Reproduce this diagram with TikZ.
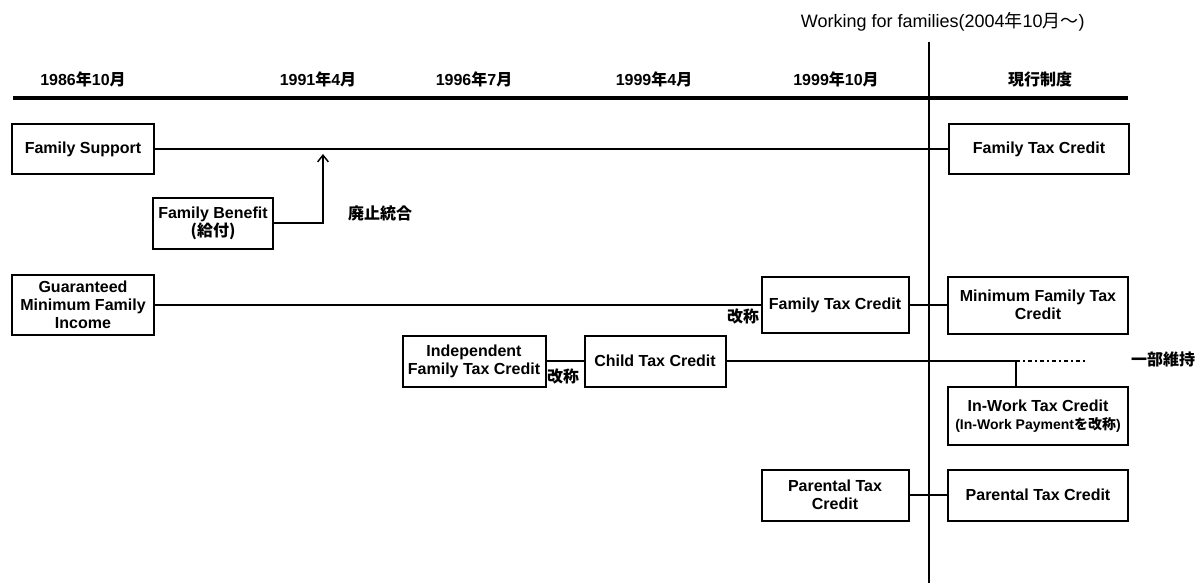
\documentclass[tikz,border=0pt]{standalone}
\usepackage{fontspec}
\setmainfont{Liberation Sans}
\newfontfamily\jpfont{Noto Sans CJK JP}
\newcommand{\jp}[1]{{\jpfont #1}}
\usetikzlibrary{positioning,arrows.meta}

\begin{document}
\begin{tikzpicture}[x=0.75pt, y=-0.75pt, >={Straight Barb[length=5pt,width=8pt]},
  every node/.style={font=\fontsize{12}{13.5}\selectfont\bfseries, align=center, inner sep=2pt},
  box/.style={draw, line width=1.5pt, minimum height=38.25pt},
  nowbox/.style={box, minimum width=135pt},
  link/.style={line width=1.1pt},
  note/.style={inner sep=0pt}]
  \useasboundingbox (0,0) rectangle (1203,583);
  % time axis
  \coordinate (rule-w) at (13,98);
  \coordinate (rule-e) at (1128,98);
  \coordinate (now-top) at (929,42);
  \coordinate (now-bot) at (929,583);
  \draw[line width=2.6pt] (rule-w) -- (rule-e);
  \draw[line width=1.3pt] (now-top) -- (now-bot);
  \node[font=\fontsize{13.5}{15}\selectfont, anchor=west] (wff) at (798,22)
      {Working for families(2004\jp{年}10\jp{月～})};
  % dates
  \node (d1986) at (83,79) {1986\jp{年}10\jp{月}};
  \node (d1991) at (318,79) {1991\jp{年}4\jp{月}};
  \node (d1996) at (474,79) {1996\jp{年}7\jp{月}};
  \node (d1999a) at (654,79) {1999\jp{年}4\jp{月}};
  \node (d1999b) at (836,79) {1999\jp{年}10\jp{月}};
  \node (dnow) at (1040,79) {\jp{現行制度}};
  % boxes
  \node[box, minimum width=106.5pt, minimum height=37.5pt] (fs) at (83,149) {Family Support};
  \node[nowbox, minimum height=37.5pt] (ftcnow) at (1039,149) {Family Tax Credit};
  \node[box, minimum width=90pt] (fb) at (213,223) {Family Benefit\\\jp{(給付)}};
  \node[box, minimum width=106.5pt, minimum height=45pt] (gmfi) at (83,305)
      {Guaranteed\\Minimum Family\\Income};
  \node[box, minimum width=110.25pt, minimum height=42pt] (ftc) at (835,305) {Family Tax Credit};
  \node[nowbox, minimum height=42.75pt] (mftc) at (1038,305) {Minimum Family Tax\\Credit};
  \node[box, minimum width=107.25pt] (iftc) at (474,361) {Independent\\Family Tax Credit};
  \node[box, minimum width=105.75pt, right=27.75pt of iftc] (ctc) {Child Tax Credit};
  \node[nowbox, minimum height=43.5pt] (iwtc) at (1038,416)
      {In-Work Tax Credit\\{\fontsize{10.5}{12}\selectfont(In-Work Payment\jp{を改称})}};
  \node[box, minimum width=110.25pt] (ptc) at (835,495) {Parental Tax\\Credit};
  \node[nowbox] (ptcnow) at (1038,495) {Parental Tax Credit};
  % notes
  \node[note] (merge-note) at (380,213) {\jp{廃止統合}};
  \node[note] (rename1) at (743,316) {\jp{改称}};
  \node[note] (rename2) at (563,376) {\jp{改称}};
  \node[note] (keep-note) at (1163,359) {\jp{一部維持}};
  % connectors
  \coordinate (merge) at (323,154);
  \coordinate (keep) at (1016,361);
  \coordinate (keep-end) at (1085,361);
  \draw[link] (fs) -- (ftcnow);
  \draw[link, ->] (fb.east) -| (merge);
  \draw[link] (gmfi) -- (ftc);
  \draw[link] (ftc) -- (mftc);
  \draw[link] (iftc) -- (ctc);
  \draw[link] (ctc.east) -- (keep);
  \draw[link, dash pattern=on 3pt off 2.5pt on 1pt off 2.5pt] (keep) -- (keep-end);
  \draw[link] (keep) -- (keep |- iwtc.north);
  \draw[link] (ptc) -- (ptcnow);
\end{tikzpicture}
\end{document}
